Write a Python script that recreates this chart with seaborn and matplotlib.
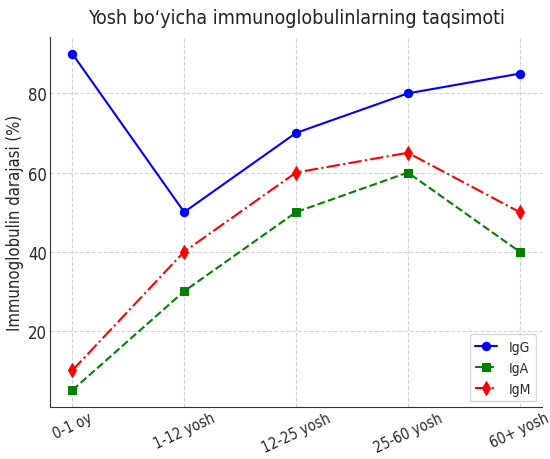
import matplotlib
matplotlib.use("Agg")
import matplotlib.pyplot as plt
from matplotlib import font_manager as fm
import seaborn as sns
import pandas as pd

age_groups = ["0-1 oy", "1-12 yosh", "12-25 yosh", "25-60 yosh", "60+ yosh"]
igg = [90, 50, 70, 80, 85]
iga = [5, 30, 50, 60, 40]
igm = [10, 40, 60, 65, 50]

sns.set_style("whitegrid", {"grid.linestyle": "--", "grid.color": "#d4d4d4",
                            "axes.edgecolor": "#333333",
                            "xtick.direction": "in", "ytick.direction": "in"})
plt.rcParams["font.family"] = ["DejaVu Sans"]

# narrow face of DejaVu Sans for all texts
cond_path = next((f.fname for f in fm.fontManager.ttflist
                  if f.fname.endswith("DejaVuSansCondensed.ttf")), None)

def font(size):
    if cond_path:
        return fm.FontProperties(fname=cond_path, size=size)
    return fm.FontProperties(family="DejaVu Sans", size=size)

fig = plt.figure(figsize=(5.5, 4.6), dpi=100)
ax = fig.add_axes([50 / 550, 52 / 460, 492 / 550, 370 / 460])

x = list(range(len(age_groups)))
series = [
    ("IgG", igg, "blue", "-", "o", 6),
    ("IgA", iga, "green", "--", "s", 6),
    ("IgM", igm, "red", "-.", "d", 7),
]
for name, vals, color, ls, mk, ms in series:
    df = pd.DataFrame({"x": x, "y": vals})
    sns.lineplot(data=df, x="x", y="y", ax=ax, color=color, linestyle=ls,
                 marker=mk, markersize=ms, markeredgecolor=color,
                 linewidth=1.5, label=name)

ax.set_xticks(x)
ax.set_xticklabels(age_groups, rotation=25, ha="center", fontproperties=font(10.5))
ax.set_yticks([20, 40, 60, 80])
ax.set_yticklabels(["20", "40", "60", "80"], fontproperties=font(12))
ax.tick_params(axis="both", length=4, width=0.8, color="#333333", pad=2)
ax.set_xlabel("")
ax.set_ylabel("Immunoglobulin darajasi (%)", fontproperties=font(12))
ax.yaxis.set_label_coords(-0.052, 0.5)
ax.set_title("Yosh bo‘yicha immunoglobulinlarning taqsimoti",
             fontproperties=font(14), pad=10, color="#222222")
ax.margins(x=0.05, y=0.05)
sns.despine(ax=ax)
ax.legend(loc="lower right", prop=font(10), frameon=True, handlelength=1.6,
          borderaxespad=0.4)

fig.savefig("out.png", dpi=100)
